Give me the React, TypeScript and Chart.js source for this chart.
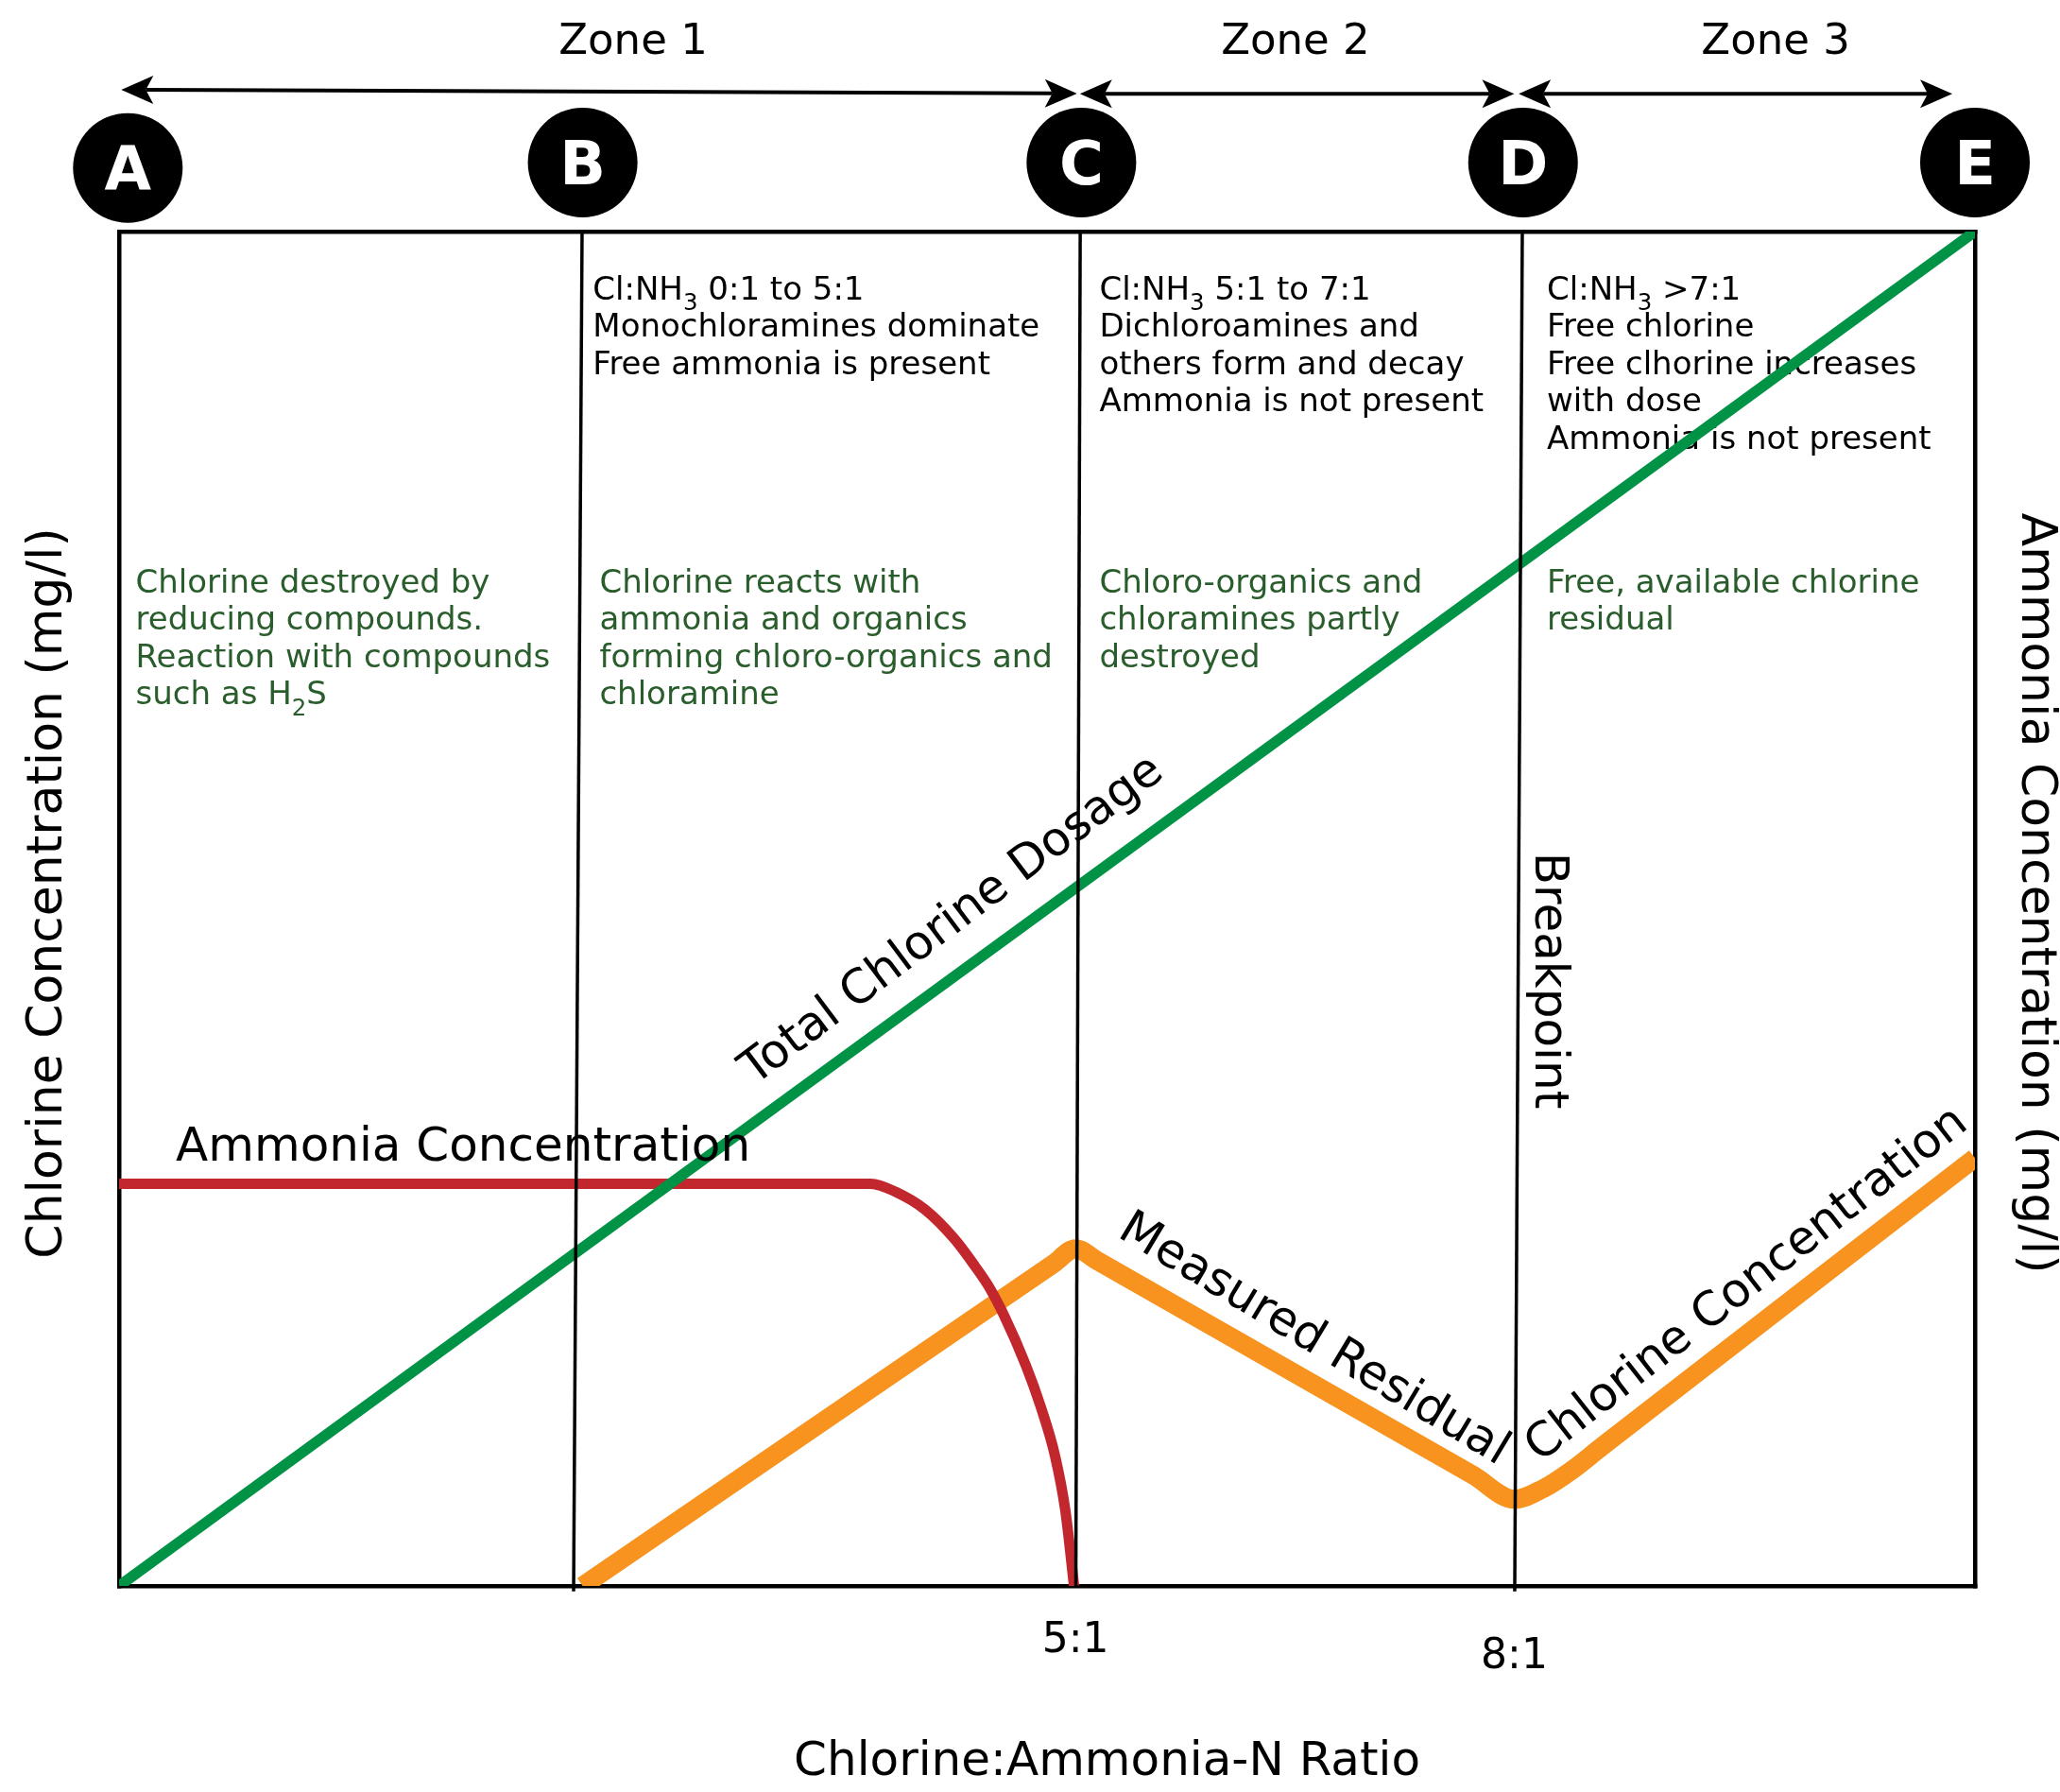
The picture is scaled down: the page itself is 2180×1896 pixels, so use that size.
import React, { useEffect, useRef } from 'react';
import { Chart, registerables } from 'chart.js';

Chart.register(...registerables);

const FONT = '"DejaVu Sans", "Noto Sans", sans-serif';
const GREEN = '#009245';
const ORANGE = '#F7931E';
const RED = '#C1272D';
const NOTE_GREEN = '#2a5d2c';

// ---------------- data (x = Chlorine:Ammonia-N ratio, y = relative concentration) ----------------
const X_MIN = -1.54;
const X_MAX = 11.15;
const Y_MIN = 0;
const Y_MAX = 100;

const xTickValues = [5, 8];
const xTickLabels = ['5:1', '8:1'];

const totalDoseX = [-1.54, 11.15];
const totalDoseY = [0, 100];

const ammoniaX = [-1.54, 3.6, 3.77, 3.97, 4.17, 4.31, 4.41, 4.51, 4.66, 4.76, 4.86, 4.93, 4.99];
const ammoniaY = [29.7, 29.7, 29.1, 27.8, 25.65, 23.65, 22.05, 20.0, 16.3, 13.3, 9.6, 5.6, 0];

const residualX = [1.63, 4.85, 5.0, 5.15, 7.72, 8.0, 8.2, 8.4, 8.6, 11.15];
const residualY = [0, 23.8, 24.9, 24.0, 8.17, 6.4, 7.2, 8.6, 10.3, 31.6];

const boundaryBottomX = [1.568, 5.002, 8.003];
const boundaryBottomY = [-0.4, 0, -0.4];
const boundaryTopX = [1.626, 5.032, 8.055];
const boundaryTopY = [100, 100, 100];

const markerLabels = ['A', 'B', 'C', 'D', 'E'];
const markerX = [-1.48, 1.63, 5.04, 8.06, 11.15];
const markerY = [104.7, 105.1, 105.1, 105.1, 105.1];

const zoneLabels = ['Zone 1', 'Zone 2', 'Zone 3'];
const zoneLabelX = [1.975, 6.504, 9.787];
const zoneArrowStartX = [-1.525, 5.03, 8.03];
const zoneArrowEndX = [5.01, 8.0, 10.995];

const chemistryNotes = [
  ['Cl:NH\u2083 0:1 to 5:1', 'Monochloramines dominate', 'Free ammonia is present'],
  ['Cl:NH\u2083 5:1 to 7:1', 'Dichloroamines and', 'others form and decay', 'Ammonia is not present'],
  ['Cl:NH\u2083 >7:1', 'Free chlorine', 'Free clhorine increases', 'with dose', 'Ammonia is not present'],
];
const chemistryNoteX = [1.699, 5.163, 8.223];

const reactionNotes = [
  ['Chlorine destroyed by', 'reducing compounds.', 'Reaction with compounds', 'such as H\u2082S'],
  ['Chlorine reacts with', 'ammonia and organics', 'forming chloro-organics and', 'chloramine'],
  ['Chloro-organics and', 'chloramines partly', 'destroyed'],
  ['Free, available chlorine', 'residual'],
];
const reactionNoteX = [-1.427, 1.745, 5.163, 8.223];

const curveLabels = ['Total Chlorine Dosage', 'Ammonia Concentration', 'Measured Residual', 'Chlorine Concentration', 'Breakpoint'];
const curveLabelX = [4.21, -1.152, 6.627, 9.593, 8.229];
const curveLabelY = [48.36, 31.4, 18.14, 22.19, 44.7];

const yTitleLeft = 'Chlorine Concentration (mg/l)';
const yTitleRight = 'Ammonia Concentration (mg/l)';
const xTitle = 'Chlorine:Ammonia-N Ratio';

// ---------------- layout / style constants ----------------
const curveLabelStyle: { size: number; rot: number; align: CanvasTextAlign; baseline: CanvasTextBaseline }[] = [
  { size: 50, rot: -37, align: 'center', baseline: 'alphabetic' },
  { size: 50, rot: 0, align: 'left', baseline: 'alphabetic' },
  { size: 50, rot: 31, align: 'center', baseline: 'middle' },
  { size: 50, rot: -38, align: 'center', baseline: 'middle' },
  { size: 50, rot: 90, align: 'center', baseline: 'middle' },
];
const xTickLineHeights = [1.2, 2.0];
const NOTE_SIZE = 34;
const NOTE_LINE = 39.5;
const chemistryNoteTopY = 95.0;
const reactionNoteTopY = 73.35;
const zoneLabelY = 113.1;
const zoneArrowStartY = [110.47, 110.17, 110.17];
const zoneArrowEndY = [110.19, 110.17, 110.17];
const MARKER_RADIUS = 58;
const MARKER_FONT = 64;

function drawRich(ctx: CanvasRenderingContext2D, text: string, x: number, y: number, size: number, color: string) {
  const parts = text.split(/([\u2080-\u2089])/);
  let cx = x;
  ctx.fillStyle = color;
  ctx.textAlign = 'left';
  ctx.textBaseline = 'alphabetic';
  for (const p of parts) {
    if (!p) continue;
    const isSub = /^[\u2080-\u2089]$/.test(p);
    const s = isSub ? size * 0.72 : size;
    const t = isSub ? String(p.charCodeAt(0) - 0x2080) : p;
    ctx.font = `${s}px ${FONT}`;
    ctx.fillText(t, cx, isSub ? y + size * 0.34 : y);
    cx += ctx.measureText(t).width;
  }
}

function drawArrow(ctx: CanvasRenderingContext2D, x1: number, y1: number, x2: number, y2: number) {
  const L = 34, W = 15, N = 8;
  const ang = Math.atan2(y2 - y1, x2 - x1);
  const cos = Math.cos(ang), sin = Math.sin(ang);
  ctx.beginPath();
  ctx.moveTo(x1 + cos * (L - N), y1 + sin * (L - N));
  ctx.lineTo(x2 - cos * (L - N), y2 - sin * (L - N));
  ctx.stroke();
  const head = (tx: number, ty: number, dx: number, dy: number) => {
    ctx.beginPath();
    ctx.moveTo(tx, ty);
    ctx.lineTo(tx - dx * L - dy * W, ty - dy * L + dx * W);
    ctx.lineTo(tx - dx * (L - N), ty - dy * (L - N));
    ctx.lineTo(tx - dx * L + dy * W, ty - dy * L - dx * W);
    ctx.closePath();
    ctx.fill();
  };
  head(x2, y2, cos, sin);
  head(x1, y1, -cos, -sin);
}

const annotationPlugin = {
  id: 'breakpointAnnotations',
  beforeDatasetsDraw(chart: any) {
    const { ctx, scales } = chart;
    const x = scales.x, y = scales.y;
    ctx.save();
    chemistryNotes.forEach((lines, i) => {
      const px = x.getPixelForValue(chemistryNoteX[i]);
      const py0 = y.getPixelForValue(chemistryNoteTopY);
      lines.forEach((line, j) => drawRich(ctx, line, px, py0 + j * NOTE_LINE, NOTE_SIZE, '#000'));
    });
    reactionNotes.forEach((lines, i) => {
      const px = x.getPixelForValue(reactionNoteX[i]);
      const py0 = y.getPixelForValue(reactionNoteTopY);
      lines.forEach((line, j) => drawRich(ctx, line, px, py0 + j * NOTE_LINE, NOTE_SIZE, NOTE_GREEN));
    });
    ctx.restore();
  },
  afterDatasetsDraw(chart: any) {
    const { ctx, scales } = chart;
    const x = scales.x, y = scales.y;
    ctx.save();
    curveLabels.forEach((text, i) => {
      const st = curveLabelStyle[i];
      ctx.save();
      ctx.translate(x.getPixelForValue(curveLabelX[i]), y.getPixelForValue(curveLabelY[i]));
      ctx.rotate((st.rot * Math.PI) / 180);
      ctx.font = `${st.size}px ${FONT}`;
      ctx.fillStyle = '#000';
      ctx.textAlign = st.align;
      ctx.textBaseline = st.baseline;
      ctx.fillText(text, 0, 0);
      ctx.restore();
    });
    ctx.restore();
  },
  afterDraw(chart: any) {
    const { ctx, scales } = chart;
    const x = scales.x, y = scales.y;
    ctx.save();
    // zone markers A..E
    markerLabels.forEach((m, i) => {
      const cx = x.getPixelForValue(markerX[i]);
      const cy = y.getPixelForValue(markerY[i]);
      ctx.beginPath();
      ctx.arc(cx, cy, MARKER_RADIUS, 0, Math.PI * 2);
      ctx.fillStyle = '#000';
      ctx.fill();
      ctx.font = `bold ${MARKER_FONT}px ${FONT}`;
      ctx.fillStyle = '#fff';
      ctx.textAlign = 'center';
      ctx.textBaseline = 'alphabetic';
      ctx.fillText(m, cx, cy + (MARKER_FONT * 0.729) / 2);
    });
    // zone labels and arrows
    ctx.fillStyle = '#000';
    ctx.strokeStyle = '#000';
    ctx.lineWidth = 4;
    ctx.font = `45px ${FONT}`;
    ctx.textAlign = 'center';
    ctx.textBaseline = 'alphabetic';
    zoneLabels.forEach((z, i) => {
      ctx.fillText(z, x.getPixelForValue(zoneLabelX[i]), y.getPixelForValue(zoneLabelY));
      drawArrow(
        ctx,
        x.getPixelForValue(zoneArrowStartX[i]), y.getPixelForValue(zoneArrowStartY[i]),
        x.getPixelForValue(zoneArrowEndX[i]), y.getPixelForValue(zoneArrowEndY[i])
      );
    });
    ctx.restore();
  },
};

const pts = (xs: number[], ys: number[]) => xs.map((v, i) => ({ x: v, y: ys[i] }));

export default function App() {
  const ref = useRef<HTMLCanvasElement>(null);
  useEffect(() => {
    document.body.style.margin = '0';
    const canvas = ref.current!;
    Chart.defaults.font.family = FONT;
    const boundaryDatasets = boundaryTopX.map((tx, i) => ({
      label: `boundary ${markerLabels[i + 1]}`,
      data: [
        { x: boundaryBottomX[i], y: boundaryBottomY[i] },
        { x: tx, y: boundaryTopY[i] },
      ],
      borderColor: '#000',
      borderWidth: 3.5,
      pointRadius: 0,
      tension: 0,
      clip: false as const,
    }));
    const chart = new Chart(canvas, {
      type: 'line',
      data: {
        datasets: [
          ...boundaryDatasets,
          {
            label: 'Total Chlorine Dosage',
            data: pts(totalDoseX, totalDoseY),
            borderColor: GREEN,
            borderWidth: 11.5,
            pointRadius: 0,
            tension: 0,
            clip: 0,
          },
          {
            label: 'Ammonia Concentration',
            data: pts(ammoniaX, ammoniaY),
            borderColor: RED,
            borderWidth: 11,
            pointRadius: 0,
            cubicInterpolationMode: 'monotone',
            clip: { left: 0, top: 20, right: 20, bottom: 0 },
          },
          {
            label: 'Measured Residual Chlorine Concentration',
            data: pts(residualX, residualY),
            borderColor: ORANGE,
            borderWidth: 20,
            pointRadius: 0,
            cubicInterpolationMode: 'monotone',
            borderJoinStyle: 'round',
            clip: { left: 20, top: 20, right: 0, bottom: 0 },
          },
        ] as any,
      },
      options: {
        responsive: false,
        maintainAspectRatio: false,
        devicePixelRatio: 1,
        animation: false,
        events: [],
        layout: { padding: { top: 245, left: 0, right: 0, bottom: 0 } },
        plugins: { legend: { display: false }, tooltip: { enabled: false } },
        scales: {
          x: {
            type: 'linear',
            position: 'bottom',
            min: X_MIN,
            max: X_MAX,
            afterBuildTicks: (scale: any) => {
              scale.ticks = xTickValues.map((v) => ({ value: v }));
            },
            ticks: {
              autoSkip: false,
              maxRotation: 0,
              minRotation: 0,
              padding: 32,
              color: '#000',
              callback: (_v: any, index: number) => xTickLabels[index],
              font: (c: any) => ({ family: FONT, size: 44, lineHeight: xTickLineHeights[c.index] ?? 1.2 }),
            },
            grid: { display: false, drawTicks: false, lineWidth: 4.5 },
            border: { display: true, color: '#000', width: 4.5 },
            title: {
              display: true,
              text: '        ' + xTitle,
              color: '#000',
              font: { family: FONT, size: 50, lineHeight: 1 },
              padding: { top: 10, bottom: 6 },
            },
          },
          x2: {
            type: 'linear',
            position: 'top',
            min: X_MIN,
            max: X_MAX,
            ticks: { display: false },
            grid: { display: false, drawTicks: false, lineWidth: 4.5 },
            border: { display: true, color: '#000', width: 4.5 },
          },
          y: {
            type: 'linear',
            position: 'left',
            min: Y_MIN,
            max: Y_MAX,
            ticks: { display: false },
            grid: { display: false, drawTicks: false, lineWidth: 4.5 },
            border: { display: true, color: '#000', width: 4.5 },
            title: {
              display: true,
              text: '  ' + yTitleLeft,
              color: '#000',
              font: { family: FONT, size: 52, lineHeight: 1 },
              padding: { top: 25.5, bottom: 48.5 },
            },
          },
          y2: {
            type: 'linear',
            position: 'right',
            min: Y_MIN,
            max: Y_MAX,
            ticks: { display: false },
            grid: { display: false, drawTicks: false, lineWidth: 4.5 },
            border: { display: true, color: '#000', width: 4.5 },
            title: {
              display: true,
              text: yTitleRight + '  ',
              color: '#000',
              font: { family: FONT, size: 52, lineHeight: 1 },
              padding: { top: 0, bottom: 38 },
            },
          },
        },
      } as any,
      plugins: [annotationPlugin],
    });
    return () => chart.destroy();
  }, []);
  return (
    <canvas
      ref={ref}
      width={2180}
      height={1896}
      style={{ display: 'block', width: '2180px', height: '1896px' }}
    />
  );
}
